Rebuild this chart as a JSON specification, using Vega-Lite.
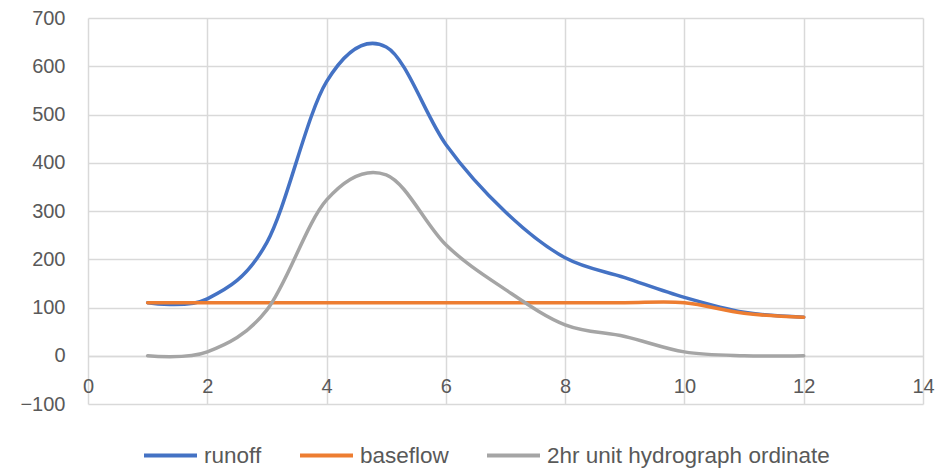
{
  "$schema": "https://vega.github.io/schema/vega-lite/v6.json",
  "autosize": "none",
  "width": 835,
  "height": 386,
  "padding": {"left": 88, "top": 18, "right": 17, "bottom": 70},
  "background": "white",
  "config": {
    "view": {"stroke": null},
    "font": "Liberation Sans"
  },
  "data": {
    "values": [
      {"t": 1, "series": "runoff", "value": 110},
      {"t": 2, "series": "runoff", "value": 118},
      {"t": 3, "series": "runoff", "value": 235},
      {"t": 4, "series": "runoff", "value": 568},
      {"t": 5, "series": "runoff", "value": 640},
      {"t": 6, "series": "runoff", "value": 438},
      {"t": 7, "series": "runoff", "value": 298},
      {"t": 8, "series": "runoff", "value": 203},
      {"t": 9, "series": "runoff", "value": 162},
      {"t": 10, "series": "runoff", "value": 121},
      {"t": 11, "series": "runoff", "value": 90},
      {"t": 12, "series": "runoff", "value": 80},
      {"t": 1, "series": "baseflow", "value": 110},
      {"t": 2, "series": "baseflow", "value": 110},
      {"t": 3, "series": "baseflow", "value": 110},
      {"t": 4, "series": "baseflow", "value": 110},
      {"t": 5, "series": "baseflow", "value": 110},
      {"t": 6, "series": "baseflow", "value": 110},
      {"t": 7, "series": "baseflow", "value": 110},
      {"t": 8, "series": "baseflow", "value": 110},
      {"t": 9, "series": "baseflow", "value": 110},
      {"t": 10, "series": "baseflow", "value": 110},
      {"t": 11, "series": "baseflow", "value": 88},
      {"t": 12, "series": "baseflow", "value": 80},
      {"t": 1, "series": "2hr unit hydrograph ordinate", "value": 0},
      {"t": 2, "series": "2hr unit hydrograph ordinate", "value": 8},
      {"t": 3, "series": "2hr unit hydrograph ordinate", "value": 95},
      {"t": 4, "series": "2hr unit hydrograph ordinate", "value": 323},
      {"t": 5, "series": "2hr unit hydrograph ordinate", "value": 375},
      {"t": 6, "series": "2hr unit hydrograph ordinate", "value": 230},
      {"t": 7, "series": "2hr unit hydrograph ordinate", "value": 137},
      {"t": 8, "series": "2hr unit hydrograph ordinate", "value": 64},
      {"t": 9, "series": "2hr unit hydrograph ordinate", "value": 40},
      {"t": 10, "series": "2hr unit hydrograph ordinate", "value": 8},
      {"t": 11, "series": "2hr unit hydrograph ordinate", "value": 0},
      {"t": 12, "series": "2hr unit hydrograph ordinate", "value": 0}
    ]
  },
  "mark": {"type": "line", "interpolate": "cardinal", "tension": 0, "strokeWidth": 3.5, "strokeCap": "round"},
  "encoding": {
    "x": {
      "field": "t", "type": "quantitative",
      "scale": {"domain": [0, 14], "nice": false, "zero": false},
      "axis": {
        "title": null, "values": [0, 2, 4, 6, 8, 10, 12, 14],
        "offset": -48, "domainColor": "#d9d9d9", "domainWidth": 1.5,
        "ticks": false, "labelPadding": 20, "labelFontSize": 20, "labelColor": "#595959",
        "gridColor": "#d9d9d9", "gridWidth": 1.5, "labelFlush": false
      }
    },
    "y": {
      "field": "value", "type": "quantitative",
      "scale": {"domain": [-100, 700], "nice": false},
      "axis": {
        "title": null, "values": [-100, 0, 100, 200, 300, 400, 500, 600, 700],
        "domain": false, "ticks": false, "labelPadding": 23, "labelFontSize": 20,
        "labelColor": "#595959", "gridColor": "#d9d9d9", "gridWidth": 1.5
      }
    },
    "color": {
      "field": "series", "type": "nominal", "sort": null,
      "scale": {
        "domain": ["runoff", "baseflow", "2hr unit hydrograph ordinate"],
        "range": ["#4472C4", "#ED7D31", "#A5A5A5"]
      },
      "legend": {
        "title": null, "orient": "none", "direction": "horizontal",
        "legendX": 54, "legendY": 409,
        "symbolType": "stroke", "symbolSize": 2809, "symbolStrokeWidth": 4,
        "labelFontSize": 22.5, "labelColor": "#595959", "labelOffset": 5,
        "columnPadding": 30, "labelLimit": 400
      }
    }
  }
}
